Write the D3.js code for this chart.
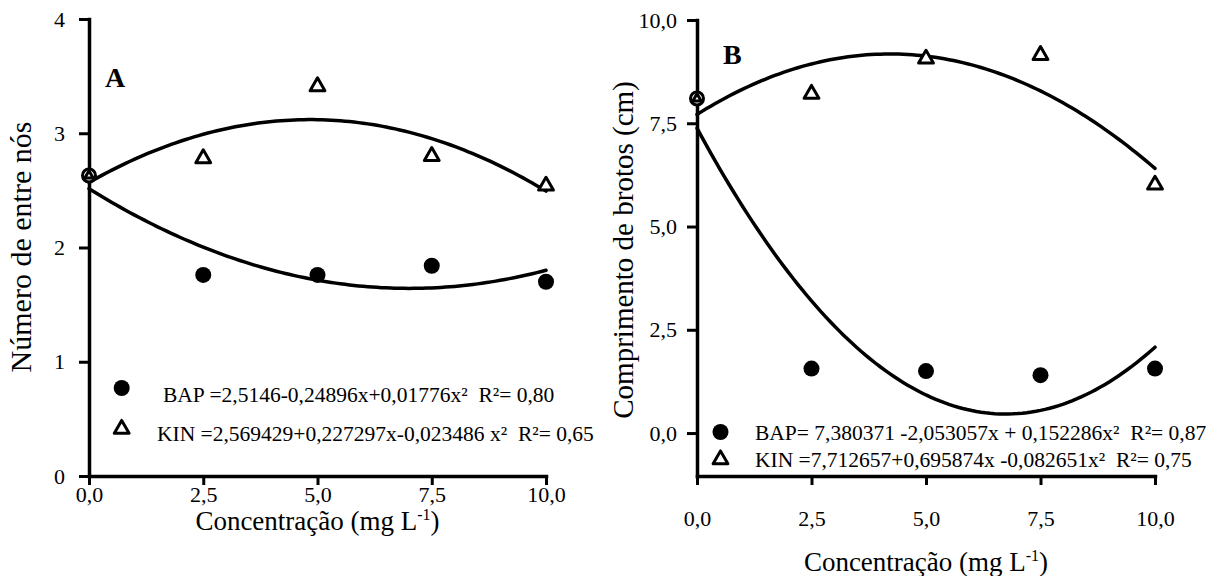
<!DOCTYPE html>
<html><head><meta charset="utf-8">
<script src="https://cdn.jsdelivr.net/npm/d3@7"></script>
<style>
html,body{margin:0;padding:0;background:#fff;}
svg{display:block;}
text{font-family:"Liberation Serif","Times New Roman",serif;fill:#000;white-space:pre;}
</style></head>
<body>
<svg id="chart" width="1216" height="576"></svg>
<script>
// ---------- data ----------
const concentracao = [0, 2.5, 5, 7.5, 10];
const xTickLabels = ["0,0", "2,5", "5,0", "7,5", "10,0"];
// Panel A: Número de entre nós
const bapNos = [2.63, 1.76, 1.76, 1.84, 1.70];
const kinNos = [2.63, 2.78, 3.41, 2.80, 2.54];
const bapNosCoef = [2.5146, -0.24896, 0.01776];
const kinNosCoef = [2.569429, 0.227297, -0.023486];
const yTicksA = [0, 1, 2, 3, 4];
const yTickLabelsA = ["0", "1", "2", "3", "4"];
// Panel B: Comprimento de brotos (cm)
const bapComp = [8.10, 1.56, 1.50, 1.40, 1.56];
const kinComp = [8.10, 8.21, 9.06, 9.15, 6.01];
const bapCompCoef = [7.380371, -2.053057, 0.152286];
const kinCompCoef = [7.712657, 0.695874, -0.082651];
const yTicksB = [0, 2.5, 5, 7.5, 10];
const yTickLabelsB = ["0,0", "2,5", "5,0", "7,5", "10,0"];
// legend texts
const legendA = ["BAP =2,5146-0,24896x+0,01776x²  R²= 0,80", "KIN =2,569429+0,227297x-0,023486 x²  R²= 0,65"];
const legendB = ["BAP= 7,380371 -2,053057x + 0,152286x²  R²= 0,87", "KIN =7,712657+0,695874x -0,082651x²  R²= 0,75"];

// ---------- drawing ----------
const FONT = '"Liberation Serif","Times New Roman",serif';
const svg = d3.select("#chart");
const poly = (c, x) => c[0] + c[1] * x + c[2] * x * x;
const fitXs = d3.range(0, 10.0001, 0.1);

function panel(cfg) {
  const g = svg.append("g");
  const x = d3.scaleLinear().domain([0, 10]).range(cfg.xRange);
  const y = d3.scaleLinear().domain(cfg.yDomain).range(cfg.yRange);

  // axes
  const ax = g.append("g").attr("transform", `translate(0,${cfg.yRange[0]})`)
    .call(d3.axisBottom(x).tickValues(concentracao).tickFormat((d, i) => xTickLabels[i])
      .tickSizeInner(9).tickSizeOuter(0).tickPadding(cfg.xPad));
  const ay = g.append("g").attr("transform", `translate(${cfg.xRange[0]},0)`)
    .call(d3.axisLeft(y).tickValues(cfg.yTicks).tickFormat((d, i) => cfg.yLabels[i])
      .tickSizeInner(10).tickSizeOuter(0).tickPadding(cfg.yPad));
  [ax, ay].forEach(a => {
    a.attr("font-family", FONT).attr("font-size", cfg.tickFont);
    a.select(".domain").attr("stroke", "#000").attr("stroke-width", 3.5).attr("stroke-linecap", "square");
    a.selectAll(".tick line").attr("stroke", "#000").attr("stroke-width", 3);
    a.selectAll(".tick text").style("font-size", cfg.tickFont + "px").style("font-family", FONT);
  });

  // fitted curves
  const line = d3.line().x(d => x(d[0])).y(d => y(d[1]));
  [cfg.bapCoef, cfg.kinCoef].forEach(c => {
    g.append("path").datum(fitXs.map(v => [v, poly(c, v)]))
      .attr("d", line).attr("fill", "none").attr("stroke", "#000")
      .attr("stroke-width", 3.5).attr("stroke-linecap", "round");
  });

  // points: BAP circles
  g.selectAll(".bap").data(concentracao).join("circle")
    .attr("cx", d => x(d)).attr("cy", (d, i) => y(cfg.bap[i]))
    .attr("r", (d, i) => i === 0 ? 6.5 : 8)
    .attr("fill", (d, i) => i === 0 ? "#fff" : "#000")
    .attr("stroke", "#000").attr("stroke-width", (d, i) => i === 0 ? 3 : 0);
  // KIN triangles
  g.selectAll(".kin").data(concentracao).join("path")
    .attr("transform", (d, i) => `translate(${x(d)},${y(cfg.kin[i])})`)
    .attr("d", (d, i) => d3.symbol(d3.symbolTriangle, i === 0 ? 30 : 95)())
    .attr("fill", "#fff").attr("stroke", "#000").attr("stroke-width", 3)
    .attr("stroke-linejoin", "round");

  // panel letter
  g.append("text").attr("x", cfg.letterPos[0]).attr("y", cfg.letterPos[1])
    .style("font-size", "28px").style("font-weight", "bold").style("font-family", FONT).text(cfg.letter);

  // x title
  const xt = g.append("text").attr("x", (cfg.xRange[0] + cfg.xRange[1]) / 2).attr("y", cfg.xTitleY)
    .attr("text-anchor", "middle").style("font-size", "27px").style("font-family", FONT);
  xt.append("tspan").text("Concentração (mg L");
  xt.append("tspan").attr("dy", -10).style("font-size", "16px").text("-1");
  xt.append("tspan").attr("dy", 10).text(")");

  // y title (x = baseline position)
  g.append("text").attr("transform", `translate(${cfg.yTitleX},${cfg.yTitleY}) rotate(-90)`)
    .attr("text-anchor", "middle").style("font-size", cfg.yTitleFont + "px").style("font-family", FONT).text(cfg.yTitle);

  // legend
  const L = cfg.legend;
  g.append("circle").attr("cx", L.markX).attr("cy", L.y1).attr("r", 8).attr("fill", "#000");
  g.append("path").attr("transform", `translate(${L.markX},${L.y2})`)
    .attr("d", d3.symbol(d3.symbolTriangle, 95)()).attr("fill", "#fff")
    .attr("stroke", "#000").attr("stroke-width", 3).attr("stroke-linejoin", "round");
  g.append("text").attr("x", L.tx1).attr("y", L.b1).style("font-size", "21.5px").style("font-family", FONT).text(cfg.legendTexts[0]);
  g.append("text").attr("x", L.tx2).attr("y", L.b2).style("font-size", "21.5px").style("font-family", FONT).text(cfg.legendTexts[1]);
}

panel({
  xRange: [89, 546], yDomain: [0, 4], yRange: [476, 19],
  yTicks: yTicksA, yLabels: yTickLabelsA, xPad: 1, yPad: 14, tickFont: 22,
  bap: bapNos, kin: kinNos, bapCoef: bapNosCoef, kinCoef: kinNosCoef,
  letter: "A", letterPos: [105, 87],
  xTitleY: 530, yTitleX: 31, yTitleY: 247, yTitleFont: 30, yTitle: "Número de entre nós",
  legend: { markX: 121.7, y1: 388, y2: 429, tx1: 163, b1: 402, tx2: 157, b2: 441 },
  legendTexts: legendA
});
panel({
  xRange: [697, 1155], yDomain: [-1.04, 10], yRange: [476, 20],
  yTicks: yTicksB, yLabels: yTickLabelsB, xPad: 25, yPad: 10, tickFont: 22,
  bap: bapComp, kin: kinComp, bapCoef: bapCompCoef, kinCoef: kinCompCoef,
  letter: "B", letterPos: [723, 64],
  xTitleY: 571, yTitleX: 633, yTitleY: 250, yTitleFont: 29, yTitle: "Comprimento de brotos (cm)",
  legend: { markX: 720.5, y1: 432, y2: 459.5, tx1: 755, b1: 440, tx2: 755, b2: 467 },
  legendTexts: legendB
});
</script>
</body></html>
